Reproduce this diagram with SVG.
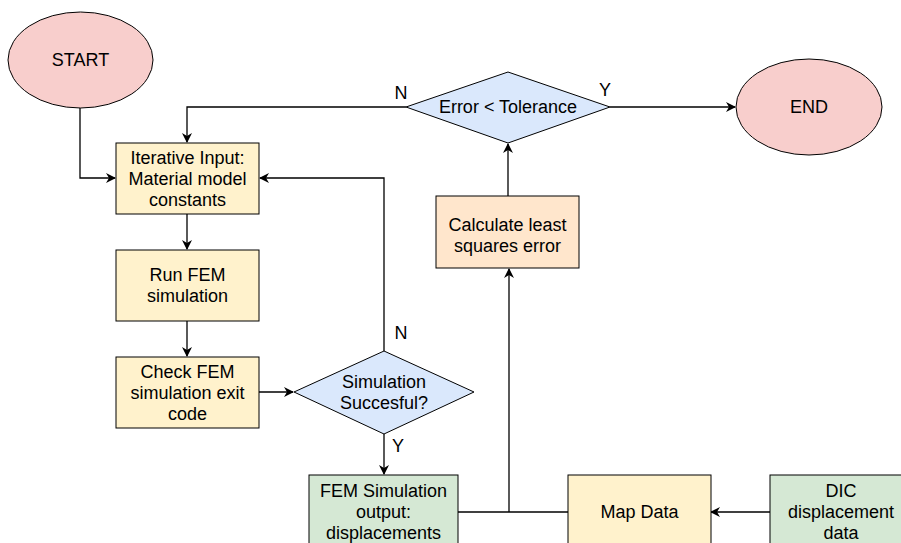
<svg xmlns="http://www.w3.org/2000/svg" width="901" height="543" viewBox="0 0 901 543">
<defs>
<marker id="arr" viewBox="0 0 10 10" refX="9" refY="5" markerWidth="10" markerHeight="10" markerUnits="userSpaceOnUse" orient="auto">
<path d="M0,0 L10,5 L0,10 L3,5 Z" fill="#000"/>
</marker>
<style>
text{font-family:"Liberation Sans",Arial,sans-serif;font-size:18px;fill:#000;text-anchor:middle;dominant-baseline:central}
.term{fill:#f8cecc;stroke:#000;stroke-width:1}
.proc{fill:#fff2cc;stroke:#000;stroke-width:1}
.calc{fill:#ffe6cc;stroke:#000;stroke-width:1}
.dec{fill:#dae8fc;stroke:#000;stroke-width:1}
.data{fill:#d5e8d4;stroke:#000;stroke-width:1}
.c{fill:none;stroke:#000;stroke-width:1.3}
.ca{fill:none;stroke:#000;stroke-width:1.3;marker-end:url(#arr)}
</style>
</defs>
<rect width="901" height="543" fill="#fff"/>
<g id="connectors">
<path class="ca" d="M80,108 V178 H115"/>
<path class="ca" d="M187,214 V249"/>
<path class="ca" d="M187,321 V356"/>
<path class="ca" d="M259,392 H293"/>
<path class="ca" d="M384,351 V178 H260"/>
<path class="ca" d="M384,434 V474"/>
<path class="c" d="M458,512 H568"/>
<path class="ca" d="M509,512 V269"/>
<path class="ca" d="M508,196 V144"/>
<path class="ca" d="M406,107 H187 V142"/>
<path class="ca" d="M610,107 H735"/>
<path class="ca" d="M770,512 H711"/>
<text x="401" y="93">N</text>
<text x="605" y="90">Y</text>
<text x="401" y="333">N</text>
<text x="398" y="446">Y</text>
</g>
<g id="start"><ellipse class="term" cx="80.5" cy="60" rx="72.5" ry="48"/><text x="80.5" y="60">START</text></g>
<g id="iterative"><rect class="proc" x="116" y="143" width="143" height="71"/><text x="187.5" y="158">Iterative Input:</text><text x="187.5" y="179">Material model</text><text x="187.5" y="200">constants</text></g>
<g id="runfem"><rect class="proc" x="116" y="250" width="143" height="71"/><text x="187.5" y="275">Run FEM</text><text x="187.5" y="296">simulation</text></g>
<g id="check"><rect class="proc" x="116" y="357" width="143" height="71"/><text x="187.5" y="372">Check FEM</text><text x="187.5" y="393">simulation exit</text><text x="187.5" y="414">code</text></g>
<g id="simok"><polygon class="dec" points="294,392 384,351 474,392 384,434"/><text x="384" y="382">Simulation</text><text x="384" y="403">Succesful?</text></g>
<g id="femout"><rect class="data" x="309" y="475" width="149" height="71"/><text x="383.5" y="491">FEM Simulation</text><text x="383.5" y="512">output:</text><text x="383.5" y="533">displacements</text></g>
<g id="mapdata"><rect class="proc" x="568" y="475" width="143" height="71"/><text x="639.5" y="512">Map Data</text></g>
<g id="dic"><rect class="data" x="770" y="475" width="143" height="71"/><text x="841" y="491">DIC</text><text x="841" y="512">displacement</text><text x="841" y="533">data</text></g>
<g id="calc"><rect class="calc" x="436" y="196" width="143" height="72"/><text x="507.5" y="225">Calculate least</text><text x="507.5" y="246">squares error</text></g>
<g id="errtol"><polygon class="dec" points="406,107 508,72 610,107 508,143"/><text x="508" y="107">Error &lt; Tolerance</text></g>
<g id="end"><ellipse class="term" cx="809" cy="107" rx="73" ry="48"/><text x="809" y="107">END</text></g>
</svg>
